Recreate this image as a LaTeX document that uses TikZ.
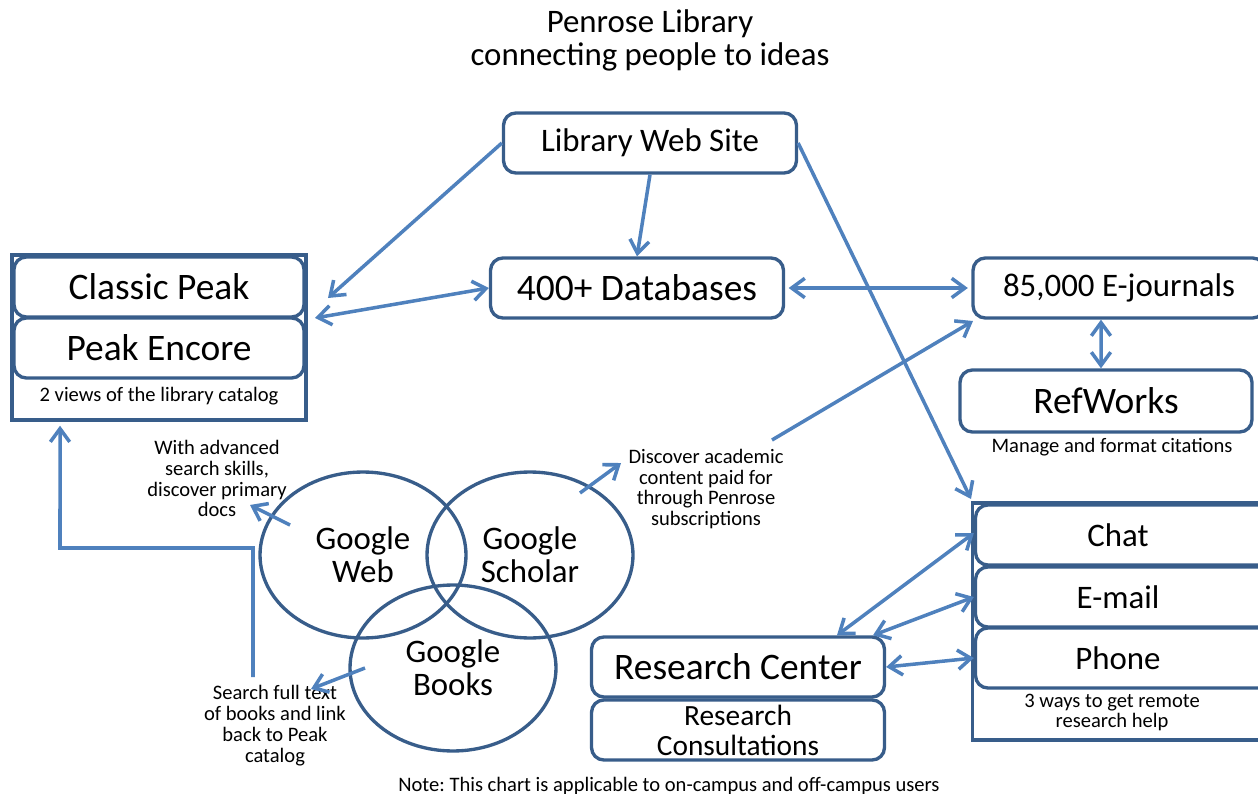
\documentclass[tikz,border=0pt]{standalone}
\usepackage{fontspec}
\setmainfont{Carlito}
\frenchspacing
\usetikzlibrary{arrows.meta,shapes.geometric}
\definecolor{boxblue}{HTML}{385D8A}
\definecolor{arrblue}{HTML}{4F81BD}
\begin{document}
\begin{tikzpicture}[x=0.02cm,y=-0.02cm,
  box/.style={draw=boxblue, line width=1.9pt, rounded corners=7pt, fill=white, inner sep=0pt,
              minimum width=5.86cm, minimum height=1.2cm},
  grp/.style={draw=boxblue, line width=2pt, inner sep=0pt},
  big/.style={font=\fontsize{21.3}{24}\selectfont},
  med/.style={font=\fontsize{18.7}{18.7}\selectfont},
  rcf/.style={font=\fontsize{16.7}{17}\selectfont},
  sml/.style={font=\fontsize{11.7}{11.9}\selectfont, align=center, inner sep=0pt},
  venn/.style={draw=boxblue, line width=1.9pt, ellipse, inner sep=0pt,
               minimum width=4.12cm, minimum height=3.32cm, align=center,
               font=\fontsize{18.7}{18.7}\selectfont},
  tip/.tip={Straight Barb[length=7.5pt,width=11pt]},
  arr/.style={draw=arrblue, line width=2pt, -tip},
  darr/.style={draw=arrblue, line width=2pt, tip-tip}
]
\useasboundingbox (0,0) rectangle (1258,794);

% title
\node[med, align=center] (title) at (650,40) {Penrose Library\\connecting people to ideas};

% top boxes
\node[box, med] (lws) at (650,143) {Library Web Site};
\node[box, big] (db) at (637,288) {400+ Databases};

% catalog group
\node[grp, minimum width=5.88cm, minimum height=3.3cm] (cat) at (159,337.5) {};
\node[box, big, minimum width=5.8cm] (cp) at (159,287) {Classic Peak};
\node[box, big, minimum width=5.8cm] (pe) at (159,348) {Peak Encore};
\node[sml] (catcap) at (159,396) {2 views of the library catalog};

% e-journals, refworks
\node[box, med, minimum width=5.84cm] (ej) at (1119,288) {85,000 E-journals};
\node[box, big, minimum width=5.84cm, minimum height=1.24cm] (rw) at (1106,401) {RefWorks};
\node[sml] (rwcap) at (1112,447) {Manage and format citations};

% remote group
\node[grp, minimum width=6.3cm, minimum height=4.74cm] (rem) at (1130,621.5) {};
\node[box, med, minimum width=6.1cm] (chat) at (1128,535) {Chat\hspace*{0.4cm}};
\node[box, med, minimum width=6.1cm] (email) at (1128,597) {E-mail\hspace*{0.4cm}};
\node[box, med, minimum width=6.1cm] (phone) at (1128,658) {Phone\hspace*{0.4cm}};
\node[sml] (remcap) at (1112,712.5) {3 ways to get remote\\research help};

% research center
\node[box, big] (rc) at (738,667) {Research Center};
\node[box, rcf, align=center] (rcons) at (738,730) {Research\\Consultations};

% venn
\node[venn] (gw) at (363,555) {Google\\Web};
\node[venn] (gs) at (530,555) {Google\\Scholar};
\node[venn] (gb) at (453,668) {Google\\Books};

% small labels
\node[sml] (withadv) at (217,478.5) {With advanced\\search skills,\\discover primary\\docs};
\node[sml] (disc) at (706,489) {Discover academic\\content paid for\\through Penrose\\subscriptions};
\node[sml] (search) at (275,725.5) {Search full text\\of books and link\\back to Peak\\catalog};

\node[sml] (note) at (669,786) {Note: This chart is applicable to on-campus and off-campus users};

% coordinates for free ends
\coordinate (catin) at (328,298);
\coordinate (catin2) at (315,318);
\coordinate (remin) at (971,499);
\coordinate (discout) at (772,440);
\coordinate (ejin) at (973,321);
\coordinate (gsout) at (580,493);
\coordinate (discin) at (621,463);
\coordinate (gwout) at (290,525);
\coordinate (within) at (250,505);
\coordinate (gbout) at (365,668);
\coordinate (searchin) at (311,689);
\coordinate (plstart) at (253,677);
\coordinate (plcorner) at (60,548);

% connectors
\draw[arr] (lws.west) -- (catin);
\draw[arr] (lws.south) -- (db.north);
\draw[arr] (lws.east) -- (remin);
\draw[darr] (db.west) -- (catin2);
\draw[darr, shorten >=2pt, shorten <=2pt] (db.east) -- (ej.west);
\draw[darr] ([xshift=-0.36cm]ej.south) -- ([xshift=-0.1cm]rw.north);
\draw[arr] (discout) -- (ejin);
\draw[arr] (gsout) -- (discin);
\draw[arr] (gwout) -- (within);
\draw[arr] (gbout) -- (searchin);
\draw[arr] (plstart) |- (plcorner) -- ([xshift=-1.98cm, yshift=-0.08cm]cat.south);
\draw[darr] ([xshift=1.98cm]rc.north) -- ([yshift=0.04cm]chat.west);
\draw[darr] ([xshift=2.7cm]rc.north) -- (email.west);
\draw[darr] (rc.east) -- (phone.west);
\end{tikzpicture}
\end{document}
